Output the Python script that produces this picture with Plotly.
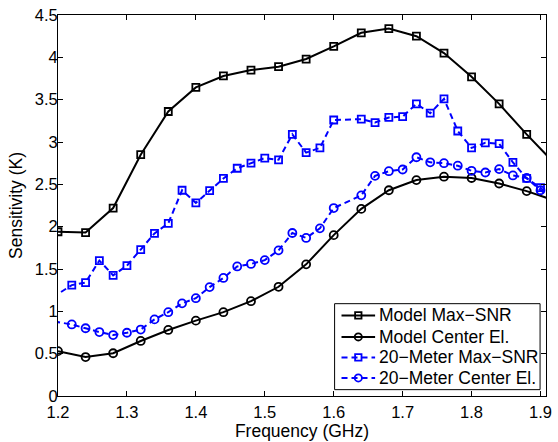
import plotly.graph_objects as go

# Model curves sampled every 40 MHz
freq_model = [1.20, 1.24, 1.28, 1.32, 1.36, 1.40, 1.44, 1.48, 1.52, 1.56,
              1.60, 1.64, 1.68, 1.72, 1.76, 1.80, 1.84, 1.88, 1.92]
model_max_snr = [1.94, 1.93, 2.22, 2.85, 3.36, 3.645, 3.78, 3.85, 3.89, 3.98,
                 4.13, 4.29, 4.34, 4.25, 4.05, 3.77, 3.45, 3.09, 2.75]
model_center = [0.53, 0.46, 0.505, 0.65, 0.78, 0.89, 0.99, 1.12, 1.29, 1.555,
                1.90, 2.21, 2.43, 2.55, 2.59, 2.575, 2.51, 2.42, 2.31]

# 20-Meter measurements sampled every 20 MHz
freq_meas = [1.18, 1.22, 1.24, 1.26, 1.28, 1.30, 1.32, 1.34, 1.36, 1.38,
             1.40, 1.42, 1.44, 1.46, 1.48, 1.50, 1.52, 1.54, 1.56, 1.58,
             1.60, 1.64, 1.66, 1.68, 1.70, 1.72, 1.74, 1.76, 1.78, 1.80,
             1.82, 1.84, 1.86, 1.88, 1.90, 1.92]
meas_max_snr = [1.10, 1.31, 1.34, 1.60, 1.425, 1.54, 1.73, 1.92, 2.04, 2.43,
                2.28, 2.425, 2.57, 2.69, 2.75, 2.81, 2.79, 3.09, 2.875, 2.93,
                3.26, 3.27, 3.23, 3.29, 3.30, 3.45, 3.34, 3.51, 3.13, 2.93,
                2.99, 2.98, 2.76, 2.57, 2.46, 2.31]
meas_center = [0.90, 0.845, 0.80, 0.755, 0.72, 0.747, 0.785, 0.905, 0.99, 1.094,
               1.155, 1.286, 1.394, 1.53, 1.56, 1.605, 1.72, 1.925, 1.867, 1.98,
               2.22, 2.37, 2.60, 2.655, 2.675, 2.82, 2.76, 2.75, 2.72, 2.66,
               2.64, 2.68, 2.605, 2.575, 2.43, 2.31]

series_names = ["Model Max\u2212SNR", "Model Center El.",
                "20\u2212Meter Max\u2212SNR", "20\u2212Meter Center El."]

x_ticks = [1.2, 1.3, 1.4, 1.5, 1.6, 1.7, 1.8, 1.9]
y_ticks = [0, 0.5, 1, 1.5, 2, 2.5, 3, 3.5, 4, 4.5]

BLUE = "#0000ff"
BLACK = "#000000"
FONT = "Liberation Sans, Arial, Helvetica, sans-serif"
DASH = "6px,4px"

W, H = 558, 442
M_L, M_R, M_T, M_B = 58, 6, 6, 46
PLOT_W = W - M_L - M_R
PLOT_H = H - M_T - M_B


def px_x(px):
    """Page x pixel -> paper fraction."""
    return (px - M_L) / PLOT_W


def px_y(py):
    """Page y pixel -> paper fraction."""
    return (H - M_B - py) / PLOT_H


styles = [
    dict(color=BLACK, dash="solid", symbol="square"),
    dict(color=BLACK, dash="solid", symbol="circle"),
    dict(color=BLUE, dash=DASH, symbol="square"),
    dict(color=BLUE, dash=DASH, symbol="circle"),
]
series = [
    (freq_model, model_max_snr),
    (freq_model, model_center),
    (freq_meas, meas_max_snr),
    (freq_meas, meas_center),
]

fig = go.Figure()
for name, (xs, ys), st in zip(series_names, series, styles):
    fig.add_trace(go.Scatter(
        x=xs, y=ys, name=name, mode="lines+markers", showlegend=False,
        line=dict(color=st["color"], width=2, dash=st["dash"]),
        marker=dict(symbol=st["symbol"] + "-open",
                    size=7 if st["symbol"] == "square" else 8,
                    color=st["color"], line=dict(width=1.8)),
    ))

# Boxed legend in the lower-right corner
shapes = [dict(type="rect", xref="paper", yref="paper",
               x0=px_x(338), x1=px_x(546), y0=px_y(389.5), y1=px_y(301.5),
               line=dict(color=BLACK, width=1), fillcolor="white", layer="above")]
annotations = []
row_y = [313.5, 335.5, 356.5, 377.5]
for name, st, ry in zip(series_names, styles, row_y):
    yy = px_y(ry)
    shapes.append(dict(type="line", xref="paper", yref="paper",
                       x0=px_x(345), x1=px_x(379), y0=yy, y1=yy,
                       line=dict(color=st["color"], width=2,
                                 dash=st["dash"]), layer="above"))
    half = 3.2 if st["symbol"] == "square" else 3.6
    shapes.append(dict(type="rect" if st["symbol"] == "square" else "circle",
                       xref="paper", yref="paper",
                       xsizemode="pixel", ysizemode="pixel",
                       xanchor=px_x(362), yanchor=yy,
                       x0=-half, x1=half, y0=-half, y1=half,
                       line=dict(color=st["color"], width=1.8),
                       fillcolor="rgba(0,0,0,0)", layer="above"))
    annotations.append(dict(text=name, xref="paper", yref="paper",
                            x=px_x(381), y=yy, xanchor="left", yanchor="middle",
                            showarrow=False,
                            font=dict(family=FONT, size=17.5, color=BLACK)))

axis_common = dict(
    showline=True, linecolor=BLACK, linewidth=1, mirror="ticks",
    ticks="inside", ticklen=5, tickcolor=BLACK, tickwidth=1,
    showgrid=False, zeroline=False, ticklabeloverflow="allow",
    tickfont=dict(family=FONT, size=16.5, color=BLACK),
)

fig.update_layout(
    width=W, height=H,
    margin=dict(l=M_L, r=M_R, t=M_T, b=M_B),
    paper_bgcolor="white", plot_bgcolor="white",
    font=dict(family=FONT, size=17, color=BLACK),
    xaxis=dict(range=[1.2, 1.908], tickvals=x_ticks,
               ticktext=[f"{v:.1f}" for v in x_ticks],
               ticklabelstandoff=1,
               title=dict(text="Frequency (GHz)", standoff=0,
                          font=dict(family=FONT, size=17.5, color=BLACK)),
               **axis_common),
    yaxis=dict(range=[0, 4.5], tickvals=y_ticks,
               ticktext=[f"{v:g}" for v in y_ticks],
               ticklabelstandoff=-4,
               title=dict(text="Sensitivity (K)", standoff=7,
                          font=dict(family=FONT, size=17.5, color=BLACK)),
               **axis_common),
    shapes=shapes,
    annotations=annotations,
    showlegend=False,
)

fig.write_html("out.html")
